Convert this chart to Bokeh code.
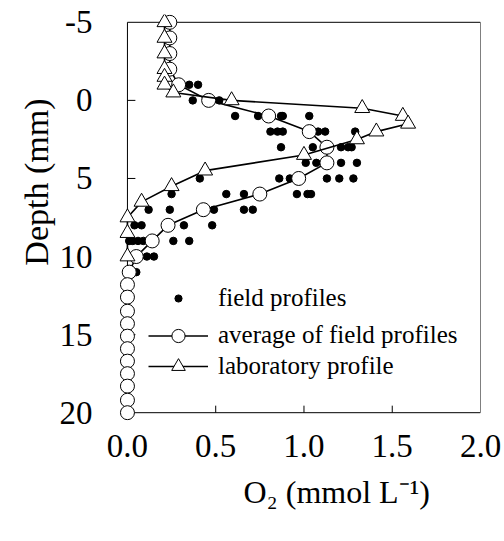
import math
from bokeh.plotting import figure
from bokeh.models import Range1d, Title, Legend, LegendItem, FixedTicker, NumeralTickFormatter
from bokeh.embed import file_html
from bokeh.resources import INLINE

# ---- data ----
avg_depth = [-5, -4, -3, -2, -1, 0, 1, 2, 3, 4, 5, 6, 7, 8, 9, 10,
             11, 11.8, 12.6, 13.5, 14.3, 15.1, 15.9, 16.7, 17.5, 18.3, 19.2, 20]
avg_o2 = [0.24, 0.24, 0.24, 0.24, 0.29, 0.46, 0.80, 1.03, 1.13, 1.13, 0.97, 0.75, 0.43, 0.23, 0.14, 0.05,
          0.01, 0, 0, 0, 0, 0, 0, 0, 0, 0, 0, 0]

lab_depth = [-5, -4, -3, -2, -1.5, -1, -0.5, 0, 0.5, 1, 1.5, 2, 2.5, 3.5, 4.5, 5.5, 6.5, 7.5, 8.5, 10]
lab_o2 = [0.21, 0.21, 0.21, 0.21, 0.21, 0.21, 0.26, 0.59, 1.33, 1.56, 1.59, 1.41, 1.30, 1.00, 0.44, 0.25, 0.08, 0, 0, 0]

field_depth = [-1, -1,
               0, 0,
               1, 1, 1, 1, 1,
               2, 2, 2, 2, 2, 2,
               3, 3, 3, 3, 3,
               4, 4, 4, 4,
               5, 5, 5, 5, 5, 5,
               6, 6, 6, 6, 6, 6,
               7, 7, 7, 7, 7,
               8, 8, 8, 8,
               9, 9, 9, 9, 9, 9,
               10, 10,
               11]
field_o2 = [0.35, 0.40,
            0.37, 0.52,
            0.61, 0.74, 0.87, 0.88, 1.03,
            0.81, 0.85, 0.88, 1.08, 1.12, 1.29,
            0.87, 1.05, 1.21, 1.25, 1.27,
            1.01, 1.07, 1.21, 1.30,
            0.41, 0.86, 0.92, 1.13, 1.20, 1.28,
            0.25, 0.56, 0.66, 0.96, 1.02, 1.04,
            0.12, 0.24, 0.49, 0.66, 0.71,
            0.04, 0.08, 0.32, 0.48,
            0.01, 0.03, 0.06, 0.09, 0.26, 0.35,
            0.11, 0.15,
            0.05]

x_ticks = [0.0, 0.5, 1.0, 1.5, 2.0]
y_ticks = [-5, 0, 5, 10, 15, 20]
X_MIN, X_MAX = 0.0, 2.0
Y_TOP, Y_BOT = -5, 20

FONT = "Liberation Serif"

# frame in canvas px: left 119, right 480, top 14, bottom 420
FL, FR, FT, FB = 119, 480, 14, 420
XR = (-0.045, 2.0)
YR = (-5.5, 20.5)  # top, bottom

p = figure(width=504, height=541, output_backend="svg", toolbar_location=None,
           x_range=Range1d(XR[0], XR[1]), y_range=Range1d(YR[1], YR[0]),
           min_border_left=FL, min_border_right=504 - FR, min_border_top=FT, min_border_bottom=541 - FB)
p.outline_line_color = None
p.xgrid.visible = False
p.ygrid.visible = False
p.background_fill_color = "white"
p.border_fill_color = "white"

for ax in (p.xaxis[0], p.yaxis[0]):
    ax.axis_line_color = None
    ax.major_tick_line_color = None
    ax.minor_tick_line_color = None
    ax.major_label_text_font = FONT
    ax.major_label_text_font_size = "33px"
    ax.major_label_text_color = "black"
p.xaxis.ticker = FixedTicker(ticks=x_ticks)
p.yaxis.ticker = FixedTicker(ticks=y_ticks)
p.xaxis.formatter = NumeralTickFormatter(format="0.0")
p.yaxis.major_label_overrides = {t: str(t) for t in y_ticks}
p.xaxis.major_label_standoff = 8
p.yaxis.major_label_standoff = 21

# frame box and inward ticks
p.segment(x0=[X_MIN, X_MIN, X_MIN, X_MAX], y0=[Y_TOP, Y_BOT, Y_TOP, Y_TOP],
          x1=[X_MAX, X_MAX, X_MIN, X_MAX], y1=[Y_TOP, Y_BOT, Y_BOT, Y_BOT],
          line_color="black", line_width=1)
tx = x_ticks[1:-1]
p.segment(x0=tx, y0=[Y_BOT] * len(tx), x1=tx, y1=[Y_BOT - 0.45] * len(tx), line_color="black", line_width=1)
ty = y_ticks[1:-1]
p.segment(x0=[X_MIN] * len(ty), y0=ty, x1=[X_MIN + 0.045] * len(ty), y1=ty, line_color="black", line_width=1)

dots = p.scatter(field_o2, field_depth, size=7.5, marker="circle", fill_color="black", line_color="black")
avg_line = p.line(avg_o2, avg_depth, line_color="black", line_width=1.6)
avg_pts = p.scatter(avg_o2, avg_depth, size=14, marker="circle", fill_color="white",
                    line_color="black", line_width=1)
lab_line = p.line(lab_o2, lab_depth, line_color="black", line_width=1.6)
lab_pts = p.scatter(lab_o2, lab_depth, size=15, marker="triangle", fill_color="white",
                    line_color="black", line_width=1)

def make_legend(label, renderers, h, center_y):
    lg = Legend(items=[LegendItem(label=label, renderers=renderers)],
                location=(148 - FL, FB - (center_y + h / 2)),
                glyph_width=60, glyph_height=h, label_height=h, spacing=0, padding=0, margin=0,
                label_standoff=10, background_fill_alpha=0, border_line_color=None,
                label_text_font=FONT, label_text_font_size="25px", label_text_color="black")
    p.add_layout(lg)

make_legend("field profiles", [dots], 18, 303)
make_legend("average of field profiles", [avg_line, avg_pts], 33, 335)
make_legend("laboratory profile", [lab_line, lab_pts], 34, 366)

# axis titles
p.add_layout(Title(text="Depth (mm)", align="right", offset=84, text_font=FONT,
                   text_font_size="34px", text_font_style="normal", text_color="black",
                   standoff=4), "left")
p.add_layout(Title(text="O\u2082 (mmol L\u207b\u00b9)", align="left", offset=124, text_font=FONT,
                   text_font_size="32px", text_font_style="normal", text_color="black",
                   standoff=25), "below")

open("out.html", "w").write(file_html(p, INLINE))
